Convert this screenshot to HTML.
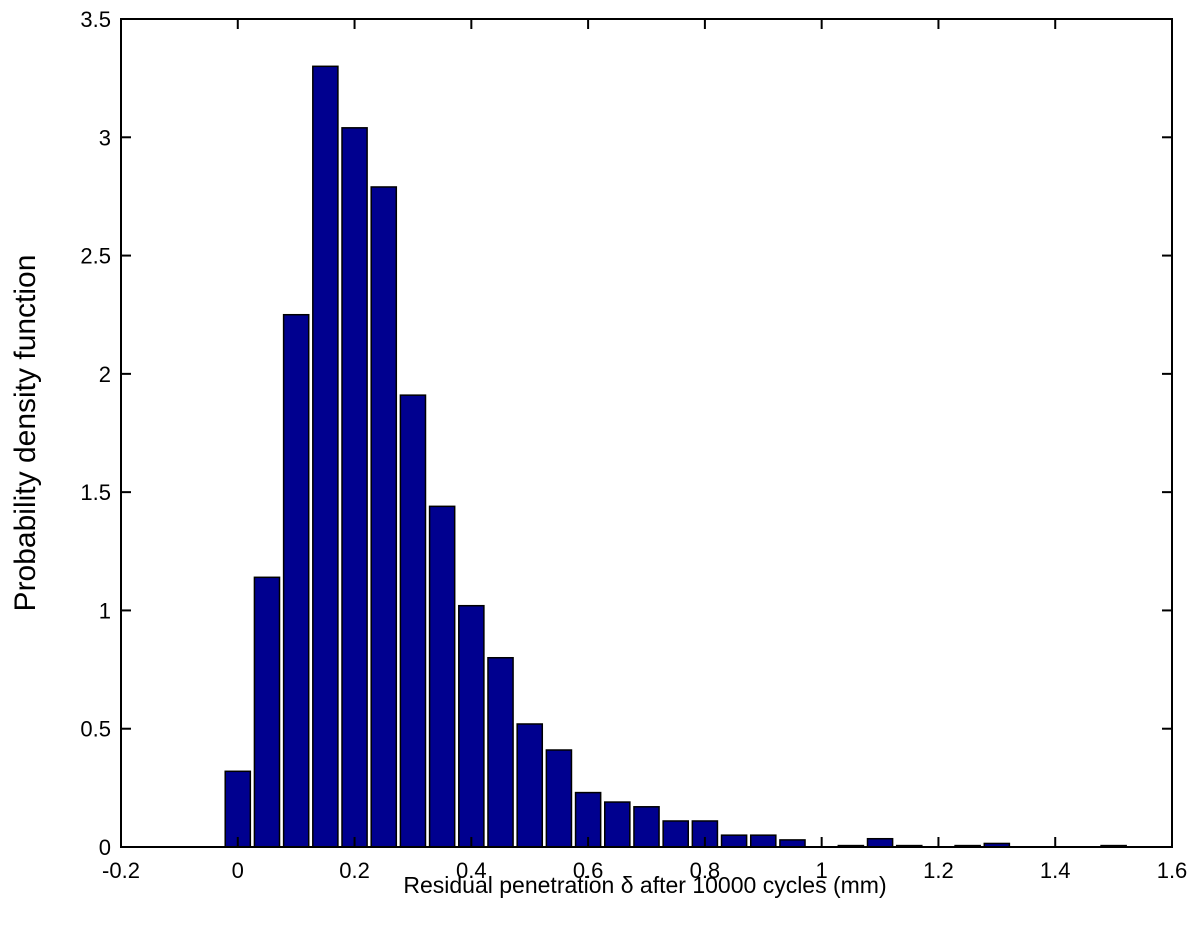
<!DOCTYPE html>
<html><head><meta charset="utf-8"><style>
body{margin:0;background:#fff}
svg text{font-family:"Liberation Sans",sans-serif;fill:#000}
</style></head><body>
<svg id="chart" width="1200" height="937" xmlns="http://www.w3.org/2000/svg">
<rect width="1200" height="937" fill="#fff"/>
<g id="bars"></g>
<g id="axes"></g>
<text x="645" y="893" font-size="23" text-anchor="middle">Residual penetration δ after 10000 cycles (mm)</text>
<text transform="translate(35,433) rotate(-90)" font-size="30" text-anchor="middle">Probability density function</text>
</svg>
<script>
const binCenters=[0,0.05,0.10,0.15,0.20,0.25,0.30,0.35,0.40,0.45,0.50,0.55,0.60,0.65,0.70,0.75,0.80,0.85,0.90,0.95,1.00,1.05,1.10,1.15,1.20,1.25,1.30,1.35,1.40,1.45,1.50];
const densities=[0.32,1.14,2.25,3.30,3.04,2.79,1.91,1.44,1.02,0.80,0.52,0.41,0.23,0.19,0.17,0.11,0.11,0.05,0.05,0.03,0,0.006,0.035,0.006,0,0.006,0.015,0,0,0,0.006];
const xTicks=[-0.2,0,0.2,0.4,0.6,0.8,1,1.2,1.4,1.6];
const yTicks=[0,0.5,1,1.5,2,2.5,3,3.5];
const L=121,R=1172,T=19,B=847,xmin=-0.2,xmax=1.6,ymax=3.5,binW=0.05,barFrac=0.86;
const X=v=>L+(v-xmin)/(xmax-xmin)*(R-L);
const Y=v=>B-v/ymax*(B-T);
const NS="http://www.w3.org/2000/svg";
const bars=document.getElementById('bars'),axes=document.getElementById('axes');
binCenters.forEach((c,i)=>{
  const v=densities[i]; if(v<=0) return;
  const r=document.createElementNS(NS,'rect');
  const w=(X(binW)-X(0))*barFrac;
  r.setAttribute('x',X(c)-w/2);r.setAttribute('width',w);
  r.setAttribute('y',Y(v));r.setAttribute('height',Math.max(B-Y(v),1));
  r.setAttribute('fill','#00008f');r.setAttribute('stroke','#000');r.setAttribute('stroke-width','1.5');
  
  
  bars.appendChild(r);
});
const frame=document.createElementNS(NS,'rect');
frame.setAttribute('x',L);frame.setAttribute('y',T);frame.setAttribute('width',R-L);frame.setAttribute('height',B-T);
frame.setAttribute('fill','none');frame.setAttribute('stroke','#000');frame.setAttribute('stroke-width','2');


axes.appendChild(frame);
function line(x1,y1,x2,y2,name){const l=document.createElementNS(NS,'line');l.setAttribute('x1',x1);l.setAttribute('y1',y1);l.setAttribute('x2',x2);l.setAttribute('y2',y2);l.setAttribute('stroke','#000');l.setAttribute('stroke-width','2');


axes.appendChild(l);}
function text(x,y,s,anchor,name){const t=document.createElementNS(NS,'text');t.setAttribute('x',x);t.setAttribute('y',y);t.setAttribute('font-size','22');t.setAttribute('text-anchor',anchor);t.textContent=s;


axes.appendChild(t);}
xTicks.forEach(v=>{const x=X(v);line(x,B,x,B-10,'x-tick');line(x,T,x,T+10,'x-tick-top');text(x,B+31,String(v),'middle','x-tick-label');});
yTicks.forEach(v=>{const y=Y(v);line(L,y,L+10,y,'y-tick');line(R,y,R-10,y,'y-tick-right');text(L-10,y+8,String(v),'end','y-tick-label');});
</script>
</body></html>
